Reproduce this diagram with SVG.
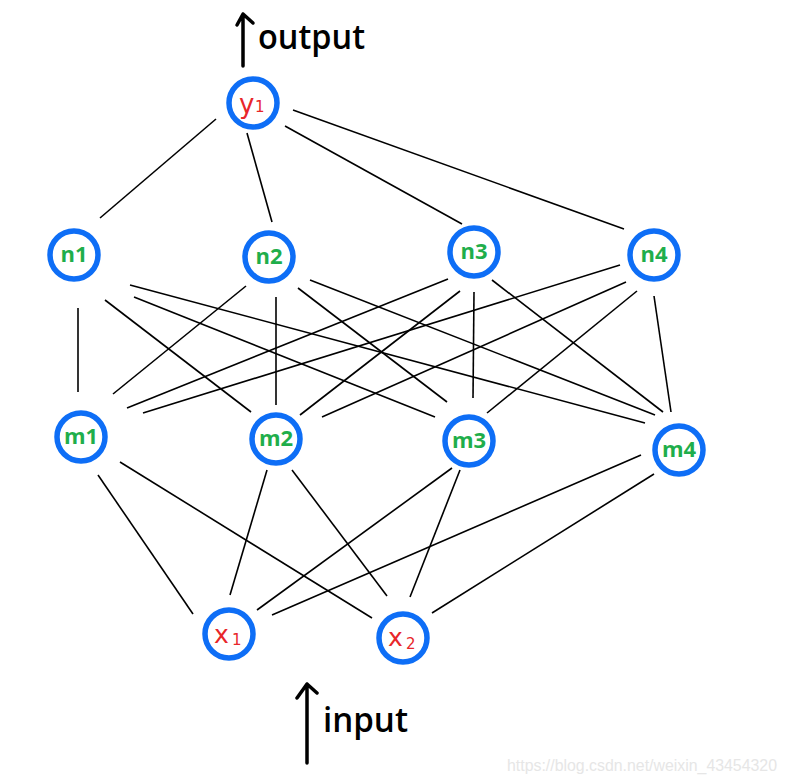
<svg xmlns="http://www.w3.org/2000/svg" width="787" height="782" viewBox="0 0 787 782">
<style>
.node circle{fill:#fff;stroke:#0e6ef6;stroke-width:5.5}
.lbl{font-family:"Open Sans","Noto Sans",sans-serif;font-weight:bold;font-size:22px;fill:#1fae4b;text-anchor:middle}
.var{font-family:"DejaVu Sans","Liberation Sans",sans-serif;fill:#e8262a}
.edges line{stroke:#000;stroke-width:1.6}
.hand{font-family:"Open Sans","DejaVu Sans",sans-serif;font-weight:600;font-size:34px;fill:#000}
.arrow{stroke:#000;stroke-width:3.5;fill:none;stroke-linecap:round;stroke-linejoin:round}
</style>
<rect width="787" height="782" fill="#fff"/>
<g id="connectors" class="edges">
<line x1="216" y1="119" x2="100" y2="218"/>
<line x1="247" y1="133" x2="272" y2="222"/>
<line x1="285" y1="126" x2="462" y2="224"/>
<line x1="293" y1="110" x2="624" y2="229"/>
<line x1="78" y1="308" x2="78" y2="392"/>
<line x1="105" y1="300" x2="251" y2="412"/>
<line x1="134" y1="297" x2="435" y2="417"/>
<line x1="130" y1="285" x2="645" y2="423"/>
<line x1="246" y1="286" x2="113" y2="394"/>
<line x1="276" y1="297" x2="276" y2="405"/>
<line x1="298" y1="288" x2="447" y2="402"/>
<line x1="310" y1="280" x2="655" y2="415"/>
<line x1="448" y1="279" x2="127" y2="408"/>
<line x1="460" y1="291" x2="300" y2="415"/>
<line x1="474" y1="292" x2="473" y2="398"/>
<line x1="492" y1="280" x2="663" y2="412"/>
<line x1="620" y1="265" x2="143" y2="413"/>
<line x1="626" y1="282" x2="322" y2="417"/>
<line x1="637" y1="291" x2="487" y2="413"/>
<line x1="654" y1="296" x2="671" y2="412"/>
<line x1="98" y1="475" x2="193" y2="614"/>
<line x1="120" y1="462" x2="372" y2="618"/>
<line x1="267" y1="470" x2="230" y2="595"/>
<line x1="292" y1="470" x2="387" y2="596"/>
<line x1="452" y1="468" x2="257" y2="610"/>
<line x1="460" y1="470" x2="410" y2="597"/>
<line x1="641" y1="455" x2="272" y2="615"/>
<line x1="654" y1="474" x2="432" y2="613"/>
</g>
<g id="y1" class="node"><circle cx="253" cy="103" r="24"/><text class="var" x="239" y="113" font-size="26">y</text><text class="var" x="255" y="112" font-size="15">1</text></g>
<g id="n1" class="node"><circle cx="74" cy="255" r="24"/><text class="lbl" x="74" y="262">n1</text></g>
<g id="n2" class="node"><circle cx="269" cy="257" r="24"/><text class="lbl" x="269" y="264">n2</text></g>
<g id="n3" class="node"><circle cx="474" cy="252" r="24"/><text class="lbl" x="474" y="259">n3</text></g>
<g id="n4" class="node"><circle cx="654" cy="255" r="24"/><text class="lbl" x="654" y="262">n4</text></g>
<g id="m1" class="node"><circle cx="81" cy="437" r="24"/><text class="lbl" x="81" y="444">m1</text></g>
<g id="m2" class="node"><circle cx="276" cy="439" r="24"/><text class="lbl" x="276" y="446">m2</text></g>
<g id="m3" class="node"><circle cx="469" cy="441" r="24"/><text class="lbl" x="469" y="448">m3</text></g>
<g id="m4" class="node"><circle cx="679" cy="450" r="24"/><text class="lbl" x="679" y="457">m4</text></g>
<g id="x1" class="node"><circle cx="229" cy="634" r="24"/><text class="var" x="214" y="643" font-size="25">x</text><text class="var" x="232" y="645" font-size="15">1</text></g>
<g id="x2" class="node"><circle cx="403" cy="638" r="24"/><text class="var" x="388" y="646" font-size="25">x</text><text class="var" x="406" y="649" font-size="15">2</text></g>
<g id="output">
<path class="arrow" d="M243 66 V14 M237 25 L243 14 L253 23"/>
<text class="hand" x="258" y="49" textLength="107" lengthAdjust="spacingAndGlyphs">output</text>
</g>
<g id="input">
<path class="arrow" d="M307 763 V684 M297 698 L307 684 L317 693"/>
<text class="hand" x="323" y="732" textLength="85" lengthAdjust="spacingAndGlyphs">input</text>
</g>
<text x="507" y="771" font-family="Liberation Sans,Arial,sans-serif" font-size="16" fill="#e6e6e6" textLength="270" lengthAdjust="spacingAndGlyphs">https://blog.csdn.net/weixin_43454320</text>
</svg>
